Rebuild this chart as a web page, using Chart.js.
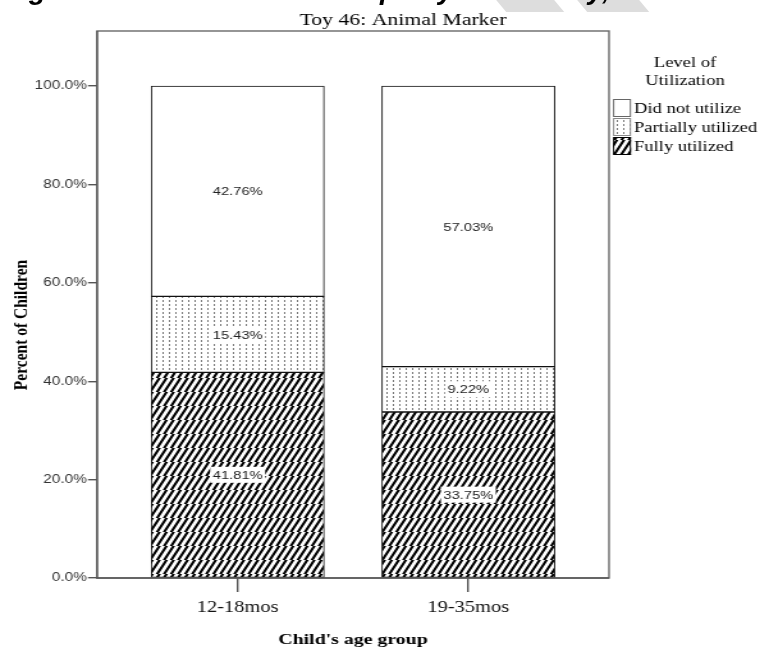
<!DOCTYPE html>
<html>
<head>
<meta charset="utf-8">
<script src="https://cdn.jsdelivr.net/npm/chart.js@4"></script>
<style>
html,body{margin:0;padding:0;background:#fff;}
#wrap{position:relative;width:760px;height:650px;overflow:hidden;}
#heading{position:absolute;left:0;top:-24px;height:28px;line-height:28px;white-space:nowrap;font:bold italic 28px "Liberation Sans",Arial,sans-serif;color:#000;}
#heading span{position:absolute;top:0;line-height:28px;}
.wm{position:absolute;top:-10px;height:22px;background:#ddd;transform:skewX(40deg);}
#stretch{position:absolute;left:0;top:0;width:594px;height:650px;transform-origin:0 0;transform:scaleX(1.2795);}
canvas{position:absolute;left:0;top:0;}
</style>
</head>
<body>
<div id="wrap">
<div id="stretch"><canvas id="c" width="594" height="650"></canvas></div>
<div class="wm" style="left:497px;width:58px;"></div>
<div class="wm" style="left:578px;width:62px;"></div>
<div id="heading"><span style="left:4px">Figure 46:</span><span style="left:313px">Group Toy</span><span style="left:552px">Day,</span></div>
</div>
<script>
// ---- data ----
const chartTitle = "Toy 46: Animal Marker";
const categories = ["12-18mos", "19-35mos"];
const seriesNames = ["Fully utilized", "Partially utilized", "Did not utilize"];
const fullyUtilized = [41.81, 33.75];
const partiallyUtilized = [15.43, 9.22];
const didNotUtilize = [42.76, 57.03];
const yTicks = [0, 20, 40, 60, 80, 100];
const legendTitle = ["Level of", "Utilization"];
const xTitle = "Child's age group";
const yTitle = "Percent of Children";

// ---- patterns (drawn in the unstretched canvas space) ----
function hatchPattern(){
  const w = 11, h = 14, c = document.createElement('canvas');
  c.width = w; c.height = h;
  const g = c.getContext('2d');
  g.fillStyle = '#fff'; g.fillRect(0,0,w,h);
  g.strokeStyle = '#000'; g.lineWidth = 2.1;
  g.beginPath();
  for (let k = -2; k <= 2; k++) {
    const off = k * w / 2;
    g.moveTo(off - w, 2*h); g.lineTo(off + w, -h);
  }
  g.stroke();
  return document.getElementById('c').getContext('2d').createPattern(c,'repeat');
}
function dotPattern(){
  const c = document.createElement('canvas');
  c.width = 5; c.height = 4;
  const g = c.getContext('2d');
  g.fillStyle = '#fff'; g.fillRect(0,0,5,4);
  g.fillStyle = '#7a7a7a'; g.fillRect(2,0,1,2);
  return document.getElementById('c').getContext('2d').createPattern(c,'repeat');
}
const hatch = hatchPattern();
const dots = dotPattern();

const SX = 760/594;
const px = v => v / SX;
const PLOT = {left:px(97), right:px(609), top:31, bottom:578};
const serif = '"Liberation Serif","Times New Roman",serif';
const sans = '"Liberation Sans",Arial,sans-serif';

const toPts = arr => arr.map((v,i)=>({x:i, y:v}));

const decor = {
  id:'decor',
  beforeDatasetsDraw(chart){
    const {ctx, chartArea:a} = chart;
    ctx.save();
    ctx.strokeStyle = '#6a6a6a'; ctx.lineWidth = 1.4;
    ctx.strokeRect(a.left, a.top, a.right-a.left, a.bottom-a.top);
    ctx.restore();
  },
  afterDatasetsDraw(chart){
    const {ctx} = chart;
    ctx.save();
    ctx.font = '11.5px ' + sans;
    ctx.textAlign = 'center'; ctx.textBaseline = 'middle';
    chart.data.datasets.forEach((ds, di)=>{
      const meta = chart.getDatasetMeta(di);
      meta.data.forEach((el, i)=>{
        const v = ds.data[i].y;
        const txt = v.toFixed(2) + '%';
        const yc = (el.y + el.base)/2;
        const w = ctx.measureText(txt).width;
        ctx.fillStyle = '#fff';
        ctx.fillRect(el.x - w/2 - 2, yc - 8, w + 4, 16);
        ctx.fillStyle = '#222';
        ctx.fillText(txt, el.x, yc + 1);
      });
    });
    const a = chart.chartArea;
    ctx.strokeStyle = '#555'; ctx.lineWidth = 1.4;
    ctx.beginPath(); ctx.moveTo(a.left, a.top); ctx.lineTo(a.left, a.bottom); ctx.lineTo(a.right, a.bottom); ctx.stroke();
    ctx.fillStyle = '#000';
    ctx.font = '17px ' + serif;
    ctx.fillText(chartTitle, px(403), 21);
    ctx.font = 'bold 15.5px ' + serif;
    ctx.fillText(xTitle, (a.left + a.right)/2, 640);
    ctx.save();
    ctx.translate(px(22), 325); ctx.rotate(-Math.PI/2);
    ctx.font = 'bold 15.5px ' + serif;
    ctx.fillText(yTitle, 0, 0);
    ctx.restore();
    ctx.font = '14.5px ' + serif;
    ctx.fillText(legendTitle[0], px(685), 63);
    ctx.fillText(legendTitle[1], px(685), 81);
    const items = [
      {name: seriesNames[2], fill:'#fff', stroke:'#666'},
      {name: seriesNames[1], fill:dots, stroke:'#888'},
      {name: seriesNames[0], fill:hatch, stroke:'#000'}
    ];
    ctx.textAlign = 'left';
    const bx = px(613), bw = px(631) - px(613);
    items.forEach((it, k)=>{
      const y = 99 + k*19;
      ctx.fillStyle = it.fill;
      ctx.fillRect(bx, y, bw, 18);
      ctx.strokeStyle = it.stroke; ctx.lineWidth = 1;
      ctx.strokeRect(bx + 0.5, y + 0.5, bw - 1, 17);
      ctx.fillStyle = '#000';
      ctx.fillText(it.name, px(634), y + 10);
    });
    ctx.restore();
  }
};

new Chart(document.getElementById('c'), {
  type:'bar',
  data:{
    datasets:[
      {label:seriesNames[0], data:toPts(fullyUtilized), backgroundColor:hatch, borderColor:'#111', borderWidth:1, borderSkipped:false},
      {label:seriesNames[1], data:toPts(partiallyUtilized), backgroundColor:dots, borderColor:'#111', borderWidth:1, borderSkipped:false},
      {label:seriesNames[2], data:toPts(didNotUtilize), backgroundColor:'#fff', borderColor:'#111', borderWidth:1, borderSkipped:false}
    ]
  },
  options:{
    responsive:false, animation:false,
    devicePixelRatio:1,
    layout:{padding:{left:0, right:594-PLOT.right, top:PLOT.top, bottom:0}},
    plugins:{legend:{display:false}, tooltip:{enabled:false}, title:{display:false}},
    barThickness:px(173),
    scales:{
      x:{
        type:'linear', stacked:true, min:-0.61, max:1.61, offset:false,
        afterBuildTicks(s){ s.ticks = categories.map((c,i)=>({value:i})); },
        afterFit(s){ s.height = 650 - PLOT.bottom; },
        ticks:{callback:(v)=>categories[v] ?? '', font:{family:serif, size:16}, color:'#111', padding:6, maxRotation:0, autoSkip:false},
        grid:{drawOnChartArea:false, offset:false, tickLength:14, color:'#555', lineWidth:1.4},
        border:{display:false}
      },
      y:{
        type:'linear', stacked:true, min:0, max:111.2,
        afterBuildTicks(s){ s.ticks = yTicks.map(v=>({value:v})); },
        afterFit(s){ s.width = PLOT.left; },
        ticks:{callback:(v)=>v.toFixed(1)+'%', font:{family:sans, size:12}, color:'#333', padding:1},
        grid:{drawOnChartArea:false, tickLength:7, color:'#555', lineWidth:1.4},
        border:{display:false}
      }
    }
  },
  plugins:[decor]
});
</script>
</body>
</html>
